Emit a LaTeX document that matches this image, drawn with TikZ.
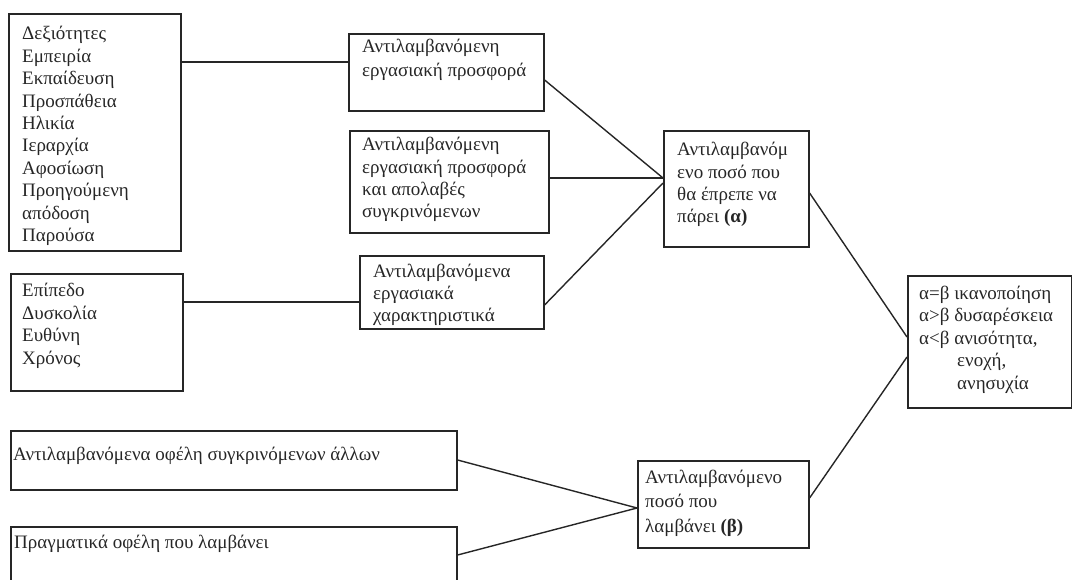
\documentclass[tikz,border=0pt]{standalone}
\usepackage{fontspec}
\setmainfont{Liberation Serif}
\begin{document}
\begin{tikzpicture}[x=1pt,y=-1pt,
  box/.style={draw=black!85, line width=1.6pt, anchor=north west, inner sep=0pt},
  txt/.style={anchor=base west, align=left, inner sep=0pt, text=black!85, font=\fontsize{19}{22.4}\selectfont},
  wide/.style={font=\fontsize{19}{24.3}\selectfont},
  link/.style={draw=black!85, line width=1.4pt}]
\useasboundingbox (0,0) rectangle (1072,580);
\clip (0,0) rectangle (1072,580);
% boxes
\node[box, minimum width=172pt, minimum height=237pt] (b1) at (8,13) {};
\node[box, minimum width=195pt, minimum height=77pt] (b2) at (348,33) {};
\node[box, minimum width=199pt, minimum height=102pt] (b3) at (349,130) {};
\node[box, minimum width=184pt, minimum height=73pt] (b4) at (359,255) {};
\node[box, minimum width=172pt, minimum height=117pt] (b5) at (10,273) {};
\node[box, minimum width=145pt, minimum height=116pt] (a) at (663,130) {};
\node[box, minimum width=164pt, minimum height=132pt] (r) at (907,275) {};
\node[box, minimum width=446pt, minimum height=59pt] (b6) at (10,430) {};
\node[box, minimum width=446pt, minimum height=80pt] (b7) at (10,526) {};
\node[box, minimum width=171pt, minimum height=87pt] (b) at (637,460) {};
% texts (anchored at the baseline of their last line)
\node[txt] (t1) at (22,241.6) {Δεξιότητες\\Εμπειρία\\Εκπαίδευση\\Προσπάθεια\\Ηλικία\\Ιεραρχία\\Αφοσίωση\\Προηγούμενη\\απόδοση\\Παρούσα};
\node[txt, wide] (t2) at (362,77) {Αντιλαμβανόμενη\\εργασιακή προσφορά};
\node[txt] (t3) at (362,218) {Αντιλαμβανόμενη\\εργασιακή προσφορά\\και απολαβές\\συγκρινόμενων};
\node[txt] (t4) at (373,322) {Αντιλαμβανόμενα\\εργασιακά\\χαρακτηριστικά};
\node[txt] (t5) at (22,364) {Επίπεδο\\Δυσκολία\\Ευθύνη\\Χρόνος};
\node[txt] (ta) at (677,223) {Αντιλαμβανόμ\\ενο ποσό που\\θα έπρεπε να\\πάρει \textbf{(α)}};
\node[txt] (tr) at (919,389) {α=β ικανοποίηση\\α>β δυσαρέσκεια\\α<β ανισότητα,\\\hspace*{38pt}ενοχή,\\\hspace*{38pt}ανησυχία};
\node[txt] (t6) at (13,460) {Αντιλαμβανόμενα οφέλη συγκρινόμενων άλλων};
\node[txt] (t7) at (14,548) {Πραγματικά οφέλη που λαμβάνει};
\node[txt, wide] (tb) at (645,532) {Αντιλαμβανόμενο\\ποσό που\\λαμβάνει \textbf{(β)}};
% connectors
\draw[link] (b1.east |- 0,62) -- (b2.west |- 0,62);
\draw[link] (b2.east |- 0,80) -- (a.west |- 0,178);
\draw[link] (b3.east |- 0,178) -- (a.west |- 0,178);
\draw[link] (b4.east |- 0,305) -- (a.west |- 0,183);
\draw[link] (b5.east |- 0,302) -- (b4.west |- 0,302);
\draw[link] (a.east |- 0,193) -- (r.west |- 0,337);
\draw[link] (b.east |- 0,498) -- (r.west |- 0,357);
\draw[link] (b6.east |- 0,460) -- (b.west |- 0,508);
\draw[link] (b7.east |- 0,555) -- (b.west |- 0,508);
\end{tikzpicture}
\end{document}
